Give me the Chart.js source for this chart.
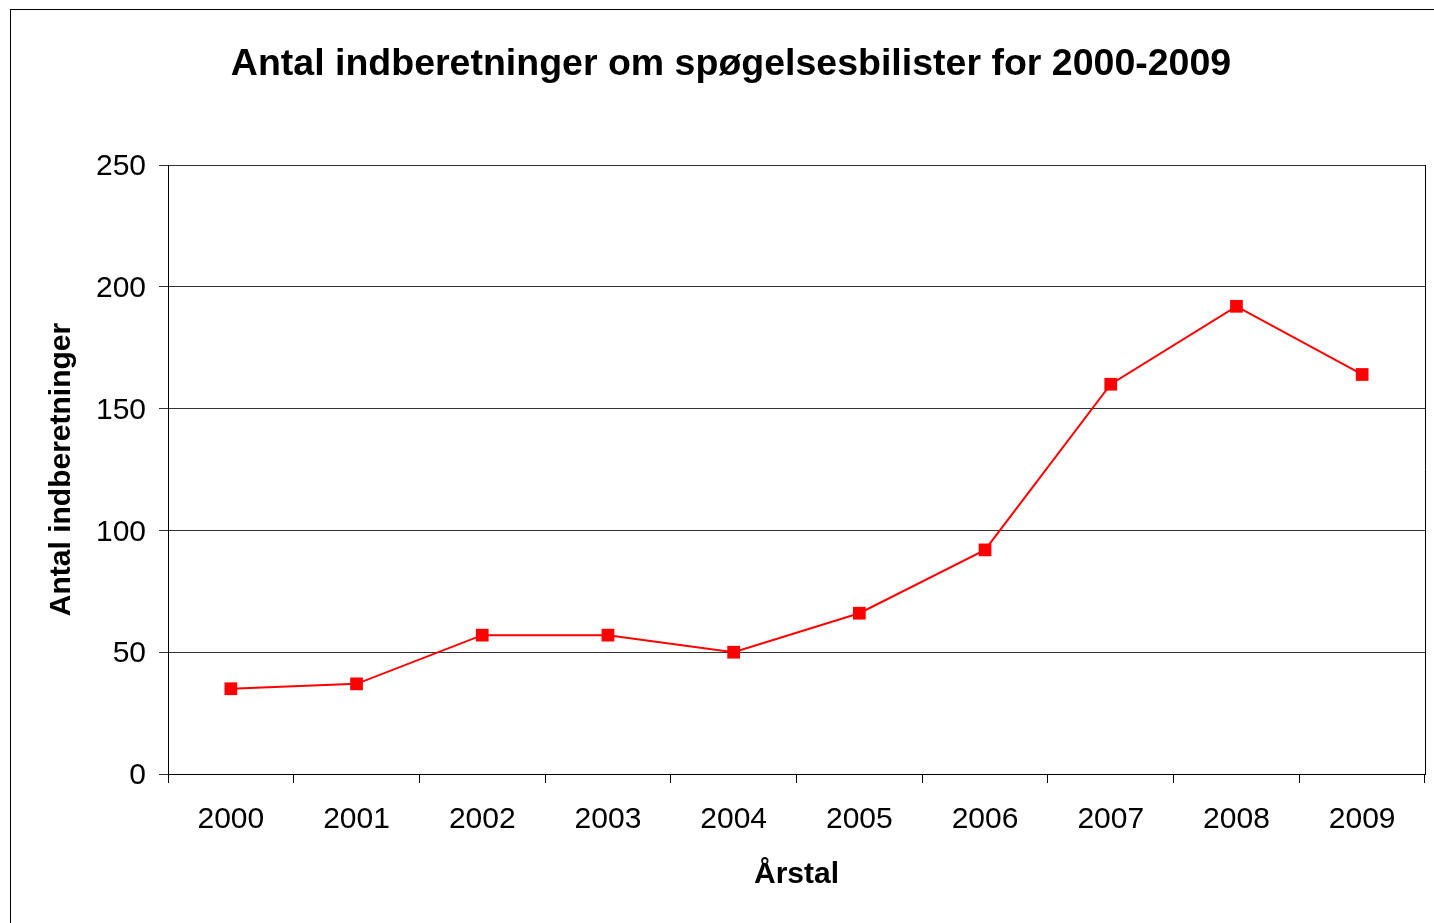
<!DOCTYPE html>
<html>
<head>
<meta charset="utf-8">
<script src="https://cdn.jsdelivr.net/npm/chart.js@4/dist/chart.umd.min.js"></script>
<style>
  html, body { margin: 0; padding: 0; background: #fff; overflow: hidden; }
  #wrap { width: 1434px; height: 923px; position: relative; }
</style>
</head>
<body>
<div id="wrap"><canvas id="c" width="1434" height="923"></canvas></div>
<script>
const chartTitle = "Antal indberetninger om spøgelsesbilister for 2000-2009";
const xAxisTitle = "Årstal";
const yAxisTitle = "Antal indberetninger";
const years = ["2000", "2001", "2002", "2003", "2004", "2005", "2006", "2007", "2008", "2009"];
const reports = [35, 37, 57, 57, 50, 66, 92, 160, 192, 164];
const yMin = 0, yMax = 250, yStep = 50;

const FONT = "'Liberation Sans', Arial, Helvetica, sans-serif";

const framePlugin = {
  id: 'frame',
  beforeDraw(chart) {
    const ctx = chart.ctx;
    ctx.save();
    ctx.fillStyle = '#fff';
    ctx.fillRect(0, 0, chart.width, chart.height);
    ctx.strokeStyle = '#000';
    ctx.lineWidth = 1;
    ctx.strokeRect(10.5, 9.5, 3000, 3000);
    ctx.restore();
  },
  beforeDatasetsDraw(chart) {
    const ctx = chart.ctx;
    const a = chart.chartArea;
    ctx.save();
    ctx.strokeStyle = '#000';
    ctx.lineWidth = 1;
    ctx.beginPath();
    const x = Math.round(a.right) + 0.5;
    ctx.moveTo(x, a.top);
    ctx.lineTo(x, a.bottom);
    ctx.stroke();
    ctx.restore();
  }
};

new Chart(document.getElementById('c'), {
  type: 'line',
  data: {
    labels: years,
    datasets: [{
      data: reports,
      borderColor: '#ff0000',
      backgroundColor: '#ff0000',
      borderWidth: 2,
      pointStyle: 'rect',
      pointRadius: 9,
      pointHoverRadius: 9,
      pointBorderWidth: 0,
      tension: 0,
      fill: false
    }]
  },
  options: {
    responsive: false,
    animation: false,
    devicePixelRatio: 1,
    layout: { padding: { left: 35, right: 7, top: 0, bottom: 0 } },
    plugins: {
      legend: { display: false },
      tooltip: { enabled: false },
      title: {
        display: true,
        text: chartTitle,
        color: '#000',
        font: { family: FONT, size: 37.5, weight: 'bold', lineHeight: 1.2 },
        padding: { top: 42, bottom: 78 }
      }
    },
    scales: {
      x: {
        type: 'category',
        offset: true,
        grid: {
          offset: true,
          drawOnChartArea: false,
          drawTicks: true,
          tickLength: 9,
          color: '#000',
          lineWidth: 1
        },
        border: { display: true, color: '#000', width: 1 },
        ticks: {
          color: '#000',
          font: { family: FONT, size: 30 },
          padding: 19,
          maxRotation: 0,
          autoSkip: false
        },
        title: {
          display: true,
          text: xAxisTitle,
          color: '#000',
          font: { family: FONT, size: 30, weight: 'bold', lineHeight: 1.2 },
          padding: { top: 0, bottom: 30 }
        },
        afterFit(scale) {
          scale.height = 149;
          scale.paddingLeft = 0;
          scale.paddingRight = 0;
        }
      },
      y: {
        min: yMin,
        max: yMax,
        grid: {
          color: '#333',
          lineWidth: 1,
          drawTicks: true,
          tickLength: 9
        },
        border: { display: true, color: '#000', width: 1 },
        ticks: {
          stepSize: yStep,
          color: '#000',
          font: { family: FONT, size: 30 },
          padding: 13,
          labelOffset: 2
        },
        title: {
          display: true,
          text: yAxisTitle,
          color: '#000',
          font: { family: FONT, size: 30, weight: 'bold', lineHeight: 1.2 },
          padding: { top: 9, bottom: 0 }
        },
        afterFit(scale) { scale.width = 133; }
      }
    }
  },
  plugins: [framePlugin]
});
</script>
</body>
</html>
